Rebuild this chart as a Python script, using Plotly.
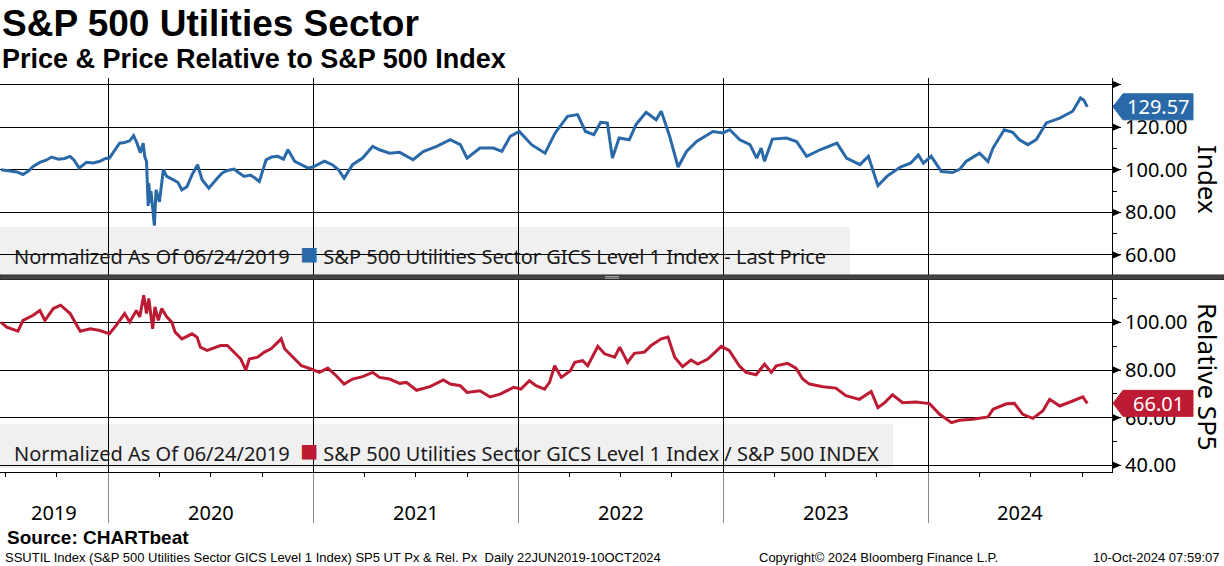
import pandas as pd
import plotly.graph_objects as go

# ---------------- data ----------------
price_dates = [
    "2019-06-24", "2019-07-05", "2019-07-22", "2019-08-02", "2019-08-12", "2019-08-20",
    "2019-09-01", "2019-09-12", "2019-09-22", "2019-10-04", "2019-10-15", "2019-10-25",
    "2019-11-01", "2019-11-10", "2019-11-23", "2019-12-05", "2019-12-17", "2019-12-27",
    "2020-01-03", "2020-01-12", "2020-01-21", "2020-01-30", "2020-02-08", "2020-02-15",
    "2020-02-21", "2020-02-27", "2020-03-03", "2020-03-06", "2020-03-09", "2020-03-11",
    "2020-03-12", "2020-03-13", "2020-03-16", "2020-03-17", "2020-03-20", "2020-03-23",
    "2020-03-26", "2020-04-01", "2020-04-08", "2020-04-14", "2020-04-26", "2020-05-04",
    "2020-05-11", "2020-05-20", "2020-05-29", "2020-06-08", "2020-06-16", "2020-06-28",
    "2020-07-13", "2020-07-22", "2020-07-31", "2020-08-12", "2020-08-21", "2020-08-30",
    "2020-09-10", "2020-09-17", "2020-09-26", "2020-10-08", "2020-10-18", "2020-10-29",
    "2020-11-08", "2020-11-16", "2020-11-28", "2020-12-10", "2020-12-22", "2021-01-02",
    "2021-01-20", "2021-02-03", "2021-02-14", "2021-02-24", "2021-03-11", "2021-03-29",
    "2021-04-16", "2021-04-28", "2021-05-16", "2021-06-03", "2021-06-27", "2021-07-15",
    "2021-08-08", "2021-09-01", "2021-09-19", "2021-10-01", "2021-10-24", "2021-11-17",
    "2021-12-02", "2021-12-17", "2022-01-02", "2022-01-24", "2022-02-17", "2022-03-07",
    "2022-03-29", "2022-04-16", "2022-04-30", "2022-05-15", "2022-05-27", "2022-06-08",
    "2022-06-17", "2022-06-29", "2022-07-17", "2022-07-29", "2022-08-16", "2022-09-03",
    "2022-09-12", "2022-09-27", "2022-10-12", "2022-10-27", "2022-11-14", "2022-12-13",
    "2022-12-31", "2023-01-12", "2023-01-30", "2023-02-17", "2023-03-01", "2023-03-09",
    "2023-03-15", "2023-03-29", "2023-04-23", "2023-05-11", "2023-05-29", "2023-06-22",
    "2023-07-22", "2023-08-08", "2023-09-01", "2023-09-16", "2023-10-03", "2023-10-19",
    "2023-11-12", "2023-11-30", "2023-12-14", "2023-12-23", "2024-01-06", "2024-01-24",
    "2024-02-13", "2024-02-26", "2024-03-08", "2024-04-01", "2024-04-16", "2024-04-25",
    "2024-05-15", "2024-05-30", "2024-06-11", "2024-06-26", "2024-07-11", "2024-07-29",
    "2024-08-22", "2024-09-14", "2024-09-28", "2024-10-04", "2024-10-10",
]
price_values = [
    100.0, 99.5, 99.0, 97.8, 99.5, 101.6,
    103.5, 104.5, 106.0, 105.0, 105.3, 106.3,
    104.5, 100.8, 103.5, 103.2, 104.0, 105.3,
    105.5, 109.0, 112.5, 112.8, 113.6, 116.0,
    112.5, 108.0, 112.5, 106.0, 104.0, 90.0,
    83.0, 93.7, 84.3, 90.0, 82.0, 73.8,
    90.6, 85.0, 100.0, 96.9, 95.3, 94.0,
    90.6, 92.0, 97.6, 102.4, 95.3, 91.4,
    96.0, 98.5, 99.7, 100.3, 98.5, 96.9,
    97.5, 96.4, 94.5, 104.7, 106.0, 106.3,
    105.0, 109.4, 104.0, 102.5, 100.8, 101.6,
    104.0, 102.4, 100.0, 96.0, 102.4, 105.5,
    111.0, 109.4, 107.8, 108.2, 104.7, 108.6,
    111.0, 114.1, 111.8, 105.5, 110.2, 110.2,
    108.6, 115.7, 118.0, 111.8, 107.8, 117.3,
    125.1, 125.9, 118.0, 116.5, 122.3, 122.0,
    105.5, 114.9, 114.1, 121.2, 127.0, 123.5,
    127.5, 115.7, 101.3, 108.6, 113.3, 118.0,
    117.3, 118.8, 114.1, 111.8, 105.5, 110.2,
    104.0, 114.4, 114.9, 113.3, 106.3, 109.4,
    112.5, 105.5, 102.4, 106.3, 92.5, 96.9,
    101.3, 103.1, 107.0, 103.1, 106.3, 99.2,
    98.7, 100.3, 103.9, 107.8, 103.9, 110.2,
    118.8, 117.6, 114.1, 111.8, 114.1, 122.0,
    124.3, 127.5, 133.7, 132.6, 129.57,
]

rel_dates = [
    "2019-06-24", "2019-07-04", "2019-07-24", "2019-08-02", "2019-08-20", "2019-09-01",
    "2019-09-10", "2019-09-25", "2019-10-08", "2019-10-25", "2019-11-06", "2019-11-12",
    "2019-11-30", "2019-12-17", "2020-01-03", "2020-01-15", "2020-01-30", "2020-02-08",
    "2020-02-20", "2020-02-26", "2020-03-04", "2020-03-09", "2020-03-13", "2020-03-20",
    "2020-03-24", "2020-03-30", "2020-04-05", "2020-04-14", "2020-04-23", "2020-04-29",
    "2020-05-11", "2020-05-29", "2020-06-07", "2020-06-13", "2020-06-25", "2020-07-19",
    "2020-07-31", "2020-08-12", "2020-08-24", "2020-09-02", "2020-09-08", "2020-09-23",
    "2020-10-05", "2020-10-17", "2020-11-04", "2020-11-10", "2020-11-22", "2020-12-10",
    "2020-12-28", "2021-01-11", "2021-01-26", "2021-02-10", "2021-02-24", "2021-03-11",
    "2021-03-29", "2021-04-16", "2021-04-28", "2021-05-16", "2021-06-03", "2021-06-15",
    "2021-07-03", "2021-07-27", "2021-08-20", "2021-09-01", "2021-09-19", "2021-10-01",
    "2021-10-24", "2021-11-11", "2021-11-29", "2021-12-23", "2022-01-05", "2022-01-20",
    "2022-02-01", "2022-02-16", "2022-02-25", "2022-03-06", "2022-03-18", "2022-04-03",
    "2022-04-11", "2022-04-25", "2022-05-04", "2022-05-22", "2022-06-03", "2022-06-21",
    "2022-06-30", "2022-07-14", "2022-07-26", "2022-08-13", "2022-08-25", "2022-09-12",
    "2022-09-24", "2022-10-06", "2022-10-20", "2022-11-04", "2022-11-16", "2022-12-04",
    "2022-12-28", "2023-01-11", "2023-01-29", "2023-02-10", "2023-02-28", "2023-03-15",
    "2023-03-27", "2023-04-05", "2023-04-25", "2023-05-10", "2023-05-22", "2023-06-03",
    "2023-06-27", "2023-07-20", "2023-08-07", "2023-08-31", "2023-09-21", "2023-10-03",
    "2023-10-15", "2023-10-29", "2023-11-16", "2023-12-10", "2024-01-03", "2024-01-21",
    "2024-02-11", "2024-02-25", "2024-03-20", "2024-04-16", "2024-04-25", "2024-05-19",
    "2024-06-02", "2024-06-17", "2024-07-05", "2024-07-23", "2024-08-04", "2024-08-22",
    "2024-09-14", "2024-10-02", "2024-10-10",
]
rel_values = [
    100.0, 98.0, 96.3, 100.8, 103.0, 105.0,
    100.8, 105.8, 107.2, 103.7, 98.7, 96.3,
    97.3, 96.6, 95.2, 98.7, 103.7, 100.1,
    105.0, 102.3, 111.4, 103.7, 110.0, 97.3,
    106.5, 100.8, 105.8, 102.3, 100.1, 95.9,
    93.1, 95.2, 93.8, 89.6, 88.2, 90.3,
    90.3, 87.5, 84.6, 80.0, 84.6, 85.4,
    87.5, 88.9, 93.1, 88.9, 86.0, 81.8,
    80.4, 79.0, 80.8, 77.6, 74.1, 76.2,
    77.2, 79.0, 76.9, 76.2, 74.4, 74.8,
    71.5, 73.0, 75.8, 74.1, 73.4, 70.6,
    71.3, 68.7, 69.9, 72.7, 72.0, 75.5,
    73.4, 72.0, 74.8, 81.8, 76.9, 79.7,
    83.2, 83.9, 81.8, 89.9, 86.8, 85.4,
    89.6, 83.2, 87.0, 87.5, 90.3, 93.1,
    93.8, 85.4, 81.4, 84.2, 82.5, 84.6,
    89.9, 88.2, 81.8, 79.0, 78.0, 82.5,
    79.0, 81.8, 82.8, 80.8, 76.2, 74.1,
    73.0, 72.4, 69.2, 67.7, 71.0, 64.2,
    66.3, 69.6, 66.3, 66.6, 65.9, 61.4,
    57.9, 58.9, 59.3, 60.3, 63.5, 65.8,
    66.0, 61.4, 59.7, 62.9, 67.7, 64.9,
    67.0, 68.7, 66.01,
]

years = ["2019", "2020", "2021", "2022", "2023", "2024"]
price_ticks = [60, 80, 100, 120, 140]
price_ticktext = ["60.00", "80.00", "100.00", "120.00", ""]
rel_ticks = [40, 60, 80, 100]
rel_ticktext = ["40.00", "60.00", "80.00", "100.00"]

title = "S&P 500 Utilities Sector"
subtitle = "Price & Price Relative to S&P 500 Index"
legend_note = "Normalized As Of 06/24/2019"
price_name = "S&P 500 Utilities Sector GICS Level 1 Index - Last Price"
rel_name = "S&P 500 Utilities Sector GICS Level 1 Index / S&P 500 INDEX"

# ---------------- style ----------------
BLUE = "#2a69a8"
RED = "#bd1a33"
W, H = 1224, 566
ML, MR, MT, MB = 0, 112, 78, 94
PW, PH = W - ML - MR, H - MT - MB
X_RANGE = ["2019-06-22", "2024-11-23"]
TICK_FONT = dict(family="Noto Sans", size=20, color="black")


def px_x(px):
    return (px - ML) / PW


def px_y(py):
    return (H - MB - py) / PH


year_starts = [f"{int(y) + 1}-01-01" for y in years[:-1]]
quarters = [d.strftime("%Y-%m-%d") for d in pd.date_range("2019-07-01", "2024-10-01", freq="QS")]
r0, r1 = pd.Timestamp(X_RANGE[0]), pd.Timestamp(X_RANGE[1])
year_mid = []
for y in years:
    a = max(pd.Timestamp(f"{y}-01-01"), r0)
    b = min(pd.Timestamp(f"{int(y) + 1}-01-01"), r1)
    year_mid.append(a + (b - a) / 2)

fig = go.Figure()
fig.add_trace(go.Scatter(x=price_dates, y=price_values, mode="lines",
                         line=dict(color=BLUE, width=3), xaxis="x", yaxis="y",
                         showlegend=False, hoverinfo="skip"))
fig.add_trace(go.Scatter(x=rel_dates, y=rel_values, mode="lines",
                         line=dict(color=RED, width=3), xaxis="x2", yaxis="y2",
                         showlegend=False, hoverinfo="skip"))

top_dom = [px_y(275), 1.0]
bot_dom = [0.0, px_y(279)]

fig.update_layout(
    width=W, height=H, autosize=False,
    margin=dict(l=ML, r=MR, t=MT, b=MB),
    paper_bgcolor="white", plot_bgcolor="white",
    showlegend=False,
    xaxis=dict(domain=[0, 1], anchor="y", type="date", range=X_RANGE,
               tickmode="array", tickvals=year_starts, showticklabels=False,
               ticks="", showgrid=True, gridcolor="black", gridwidth=1,
               showline=False, zeroline=False),
    xaxis2=dict(domain=[0, 1], anchor="y2", type="date", range=X_RANGE,
                tickmode="array", tickvals=year_starts, showticklabels=False,
                ticks="outside", ticklen=50, tickcolor="#8a8a8a", tickwidth=1,
                showgrid=True, gridcolor="black", gridwidth=1,
                showline=True, linecolor="black", linewidth=1, zeroline=False,
                minor=dict(tickmode="array", tickvals=quarters, ticks="outside",
                           ticklen=4, tickcolor="black", showgrid=False)),
    yaxis=dict(domain=top_dom, anchor="x", side="right", range=[50.6, 143.1],
               tickmode="array", tickvals=price_ticks, ticktext=price_ticktext,
               ticks="outside", ticklen=8, tickcolor="black",
               showgrid=True, gridcolor="black", gridwidth=1,
               showline=True, linecolor="black", zeroline=False,
               tickfont=TICK_FONT,
               minor=dict(tickmode="array", tickvals=[70, 90, 110, 130],
                          ticks="outside", ticklen=4, tickcolor="black", showgrid=False)),
    yaxis2=dict(domain=bot_dom, anchor="x2", side="right", range=[37.2, 118.2],
                tickmode="array", tickvals=rel_ticks, ticktext=rel_ticktext,
                ticks="outside", ticklen=8, tickcolor="black",
                showgrid=True, gridcolor="black", gridwidth=1,
                showline=True, linecolor="black", zeroline=False,
                tickfont=TICK_FONT,
                minor=dict(tickmode="array", tickvals=[50, 70, 90, 110],
                           ticks="outside", ticklen=4, tickcolor="black", showgrid=False)),
)

shapes = []
# legend boxes (below the grid)
shapes.append(dict(type="rect", xref="paper", yref="paper", layer="below",
                   x0=px_x(0), x1=px_x(850), y0=px_y(275), y1=px_y(227),
                   fillcolor="#f0f0f0", line=dict(width=0)))
shapes.append(dict(type="rect", xref="paper", yref="paper", layer="below",
                   x0=px_x(0), x1=px_x(893), y0=px_y(468), y1=px_y(424),
                   fillcolor="#f0f0f0", line=dict(width=0)))
# arrow heads on the major y ticks
for yref, vals in (("y", price_ticks), ("y2", rel_ticks)):
    for v in vals:
        shapes.append(dict(type="path", xref="paper", yref=yref,
                           xsizemode="pixel", ysizemode="pixel", xanchor=1, yanchor=v,
                           path="M1,3.5 L9,0 L1,-3.5 Z",
                           fillcolor="black", line=dict(color="black", width=0)))
# panel separator
shapes.append(dict(type="rect", xref="paper", yref="paper",
                   x0=px_x(0), x1=px_x(W), y0=px_y(279.5), y1=px_y(275),
                   fillcolor="#444444", line=dict(color="#2a2a2a", width=1)))
for gy in (276.6, 278.2):
    shapes.append(dict(type="line", xref="paper", yref="paper",
                       x0=px_x(605), x1=px_x(619), y0=px_y(gy), y1=px_y(gy),
                       line=dict(color="#a8a8a8", width=1)))
# last value tags
for yref, val, col in (("y", price_values[-1], BLUE), ("y2", rel_values[-1], RED)):
    shapes.append(dict(type="path", xref="paper", yref=yref,
                       xsizemode="pixel", ysizemode="pixel", xanchor=1, yanchor=val,
                       path="M1,0 L11,13 L81,13 L81,-13 L11,-13 Z",
                       fillcolor=col, line=dict(color=col, width=1)))
fig.update_layout(shapes=shapes)

ann = []
sq = lambda c: f'<span style="color:{c};font-size:30px">■</span>'
ann.append(dict(xref="paper", yref="paper", x=px_x(12), y=px_y(252), xanchor="left",
                yanchor="middle", showarrow=False,
                text=f"{legend_note}\u00a0\u00a0{sq(BLUE)}\u00a0{price_name}",
                font=dict(family="Noto Sans", size=20, color="#1a1a1a")))
ann.append(dict(xref="paper", yref="paper", x=px_x(12), y=px_y(449), xanchor="left",
                yanchor="middle", showarrow=False,
                text=f"{legend_note}\u00a0\u00a0{sq(RED)}\u00a0{rel_name}",
                font=dict(family="Noto Sans", size=20, color="#1a1a1a")))
# last value texts
ann.append(dict(xref="paper", yref="y", x=1, xshift=46, y=price_values[-1],
                text=f"{price_values[-1]:.2f}", showarrow=False, xanchor="center",
                yanchor="middle", font=dict(family="Noto Sans", size=20, color="white")))
ann.append(dict(xref="paper", yref="y2", x=1, xshift=46, y=rel_values[-1],
                text=f"{rel_values[-1]:.2f}", showarrow=False, xanchor="center",
                yanchor="middle", font=dict(family="Noto Sans", size=20, color="white")))
# axis titles
ann.append(dict(xref="paper", yref="paper", x=px_x(1208), y=px_y(179), text="Index",
                textangle=90, showarrow=False, xanchor="center", yanchor="middle",
                font=dict(family="Noto Sans", size=26, color="black")))
ann.append(dict(xref="paper", yref="paper", x=px_x(1208), y=px_y(377), text="Relative SP5",
                textangle=90, showarrow=False, xanchor="center", yanchor="middle",
                font=dict(family="Noto Sans", size=26, color="black")))
# year labels
for y, m in zip(years, year_mid):
    ann.append(dict(xref="x2", yref="paper", x=m, y=px_y(512), text=y, showarrow=False,
                    xanchor="center", yanchor="middle",
                    font=dict(family="Noto Sans", size=20, color="black")))
# titles
ann.append(dict(xref="paper", yref="paper", x=px_x(0), y=px_y(24), text=f"<b>{title}</b>",
                showarrow=False, xanchor="left", yanchor="middle",
                font=dict(family="Liberation Sans", size=37, color="black")))
ann.append(dict(xref="paper", yref="paper", x=px_x(0), y=px_y(59), text=f"<b>{subtitle}</b>",
                showarrow=False, xanchor="left", yanchor="middle",
                font=dict(family="Liberation Sans", size=27, color="black")))
# footer
ann.append(dict(xref="paper", yref="paper", x=px_x(5), y=px_y(537), text="<b>Source: CHARTbeat</b>",
                showarrow=False, xanchor="left", yanchor="middle",
                font=dict(family="Liberation Sans", size=19, color="black")))
ann.append(dict(xref="paper", yref="paper", x=px_x(3), y=px_y(557),
                text="SSUTIL Index (S&P 500 Utilities Sector GICS Level 1 Index) SP5 UT Px & Rel. Px\u00a0\u00a0Daily 22JUN2019-10OCT2024",
                showarrow=False, xanchor="left", yanchor="middle",
                font=dict(family="Liberation Sans", size=13, color="black")))
ann.append(dict(xref="paper", yref="paper", x=px_x(757), y=px_y(557),
                text="Copyright© 2024 Bloomberg Finance L.P.",
                showarrow=False, xanchor="left", yanchor="middle",
                font=dict(family="Liberation Sans", size=13, color="black")))
ann.append(dict(xref="paper", yref="paper", x=px_x(1221), y=px_y(557),
                text="10-Oct-2024 07:59:07",
                showarrow=False, xanchor="right", yanchor="middle",
                font=dict(family="Liberation Sans", size=13, color="black")))
fig.update_layout(annotations=ann)

fig.write_html(
    "out.html",
    config={"displayModeBar": False},
    post_script="document.body.style.margin='0px';document.body.style.overflow='hidden';",
)
